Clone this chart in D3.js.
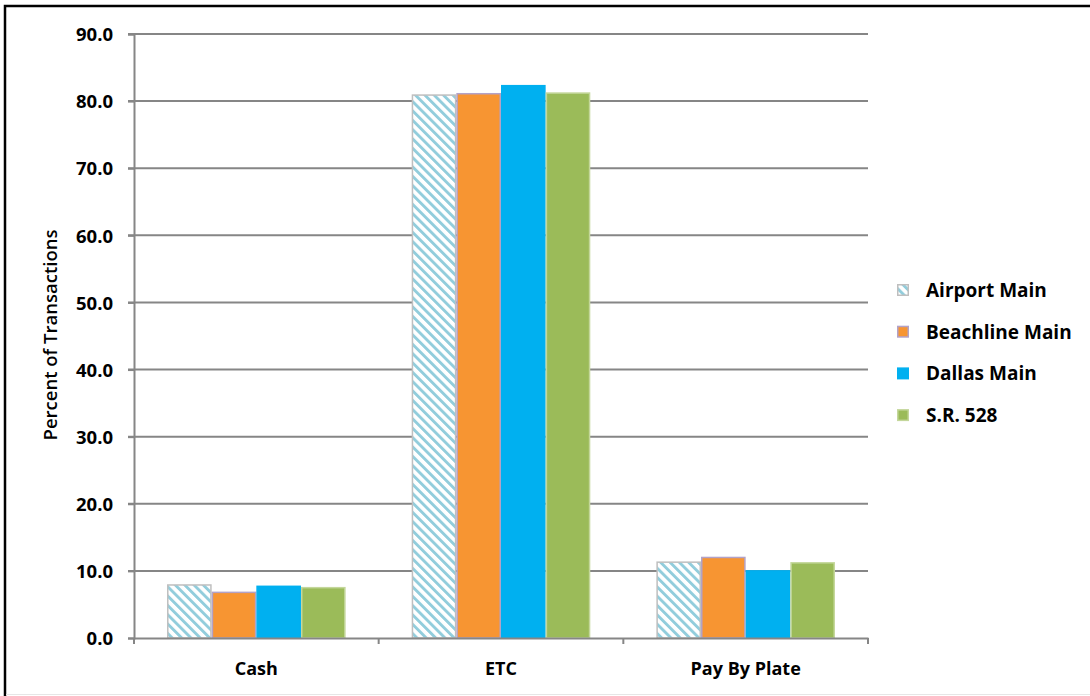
<!DOCTYPE html>
<html>
<head>
<meta charset="utf-8">
<script src="https://cdn.jsdelivr.net/npm/d3@7"></script>
<style>
  html, body { margin: 0; padding: 0; background: #fff; }
  svg { display: block; }
  svg text { font-family: "Open Sans", "Noto Sans", sans-serif; }
</style>
</head>
<body>
<svg id="chart" width="1090" height="696"></svg>
<script>
// Share of toll transactions by payment type at four plazas
const categories = ["Cash", "ETC", "Pay By Plate"];
const seriesNames = ["Airport Main", "Beachline Main", "Dallas Main", "S.R. 528"];
const airportMain   = [7.9, 80.9, 11.3];
const beachlineMain = [6.8, 81.1, 12.0];
const dallasMain    = [7.7, 82.3, 10.0];
const sr528         = [7.5, 81.2, 11.2];
const yTicks = [0, 10, 20, 30, 40, 50, 60, 70, 80, 90];
const yTitle = "Percent of Transactions";

(function draw() {
  const seriesValues = [airportMain, beachlineMain, dallasMain, sr528];
  const fills = ["url(#diagStripe)", "#f79532", "#00b0f0", "#9bbb59"];
  const strokes = ["#bfbfbf", "#b3a2c7", "#00b0f0", "#c4d79b"];
  const fontFamily = '"Open Sans", "Noto Sans", sans-serif';

  const svg = d3.select("#chart");

  // stripe pattern for the first series (running top-left to bottom-right)
  const defs = svg.append("defs");
  const pat = defs.append("pattern")
    .attr("id", "diagStripe")
    .attr("patternUnits", "userSpaceOnUse")
    .attr("width", 6.6).attr("height", 6.6)
    .attr("patternTransform", "rotate(-45)");
  pat.append("rect").attr("width", 6.6).attr("height", 6.6).attr("fill", "#fff");
  pat.append("rect").attr("x", 0).attr("width", 2.9).attr("height", 6.6).attr("fill", "#92cddc");

  // outer frame (top and left edges visible)
  svg.append("rect")
    .attr("x", 5).attr("y", 6).attr("width", 1100).attr("height", 720)
    .attr("fill", "none").attr("stroke", "#000").attr("stroke-width", 2.5);
  svg.append("line")
    .attr("x1", 6).attr("x2", 1090).attr("y1", 694.5).attr("y2", 694.5)
    .attr("stroke", "#e6e6e6").attr("stroke-width", 1);

  const mLeft = 134, mRight = 868, mTop = 34, mBottom = 638;

  const y = d3.scaleLinear().domain([0, 90]).range([mBottom, mTop]);
  const x0 = d3.scaleBand().domain(categories).range([mLeft, mRight])
    .paddingInner(0.27).paddingOuter(0.135);
  const x1 = d3.scaleBand().domain(seriesNames).range([0, x0.bandwidth()]);

  // horizontal gridlines
  svg.append("g")
    .selectAll("line")
    .data(yTicks.filter(d => d > 0))
    .join("line")
    .attr("x1", mLeft - 6).attr("x2", mRight)
    .attr("y1", d => y(d)).attr("y2", d => y(d))
    .attr("stroke", "#868686").attr("stroke-width", 2);

  // bars
  const groups = svg.append("g")
    .selectAll("g")
    .data(categories)
    .join("g")
    .attr("transform", d => `translate(${x0(d)},0)`);

  groups.selectAll("rect")
    .data((c, ci) => seriesNames.map((s, si) => ({ s, si, v: seriesValues[si][ci] })))
    .join("rect")
    .attr("x", d => x1(d.s) + 0.75)
    .attr("width", x1.bandwidth() - 1.5)
    .attr("y", d => y(d.v))
    .attr("height", d => y(0) - y(d.v))
    .attr("fill", d => fills[d.si])
    .attr("stroke", d => strokes[d.si])
    .attr("stroke-width", 1.5);

  // y axis
  const yAxis = d3.axisLeft(y).tickValues(yTicks).tickFormat(d3.format(".1f")).tickSize(6).tickPadding(15);
  const gy = svg.append("g").attr("transform", `translate(${mLeft},0)`).call(yAxis)
    .attr("font-family", fontFamily).attr("font-size", 18.5).attr("font-weight", 700);
  gy.select(".domain").attr("stroke", "#868686").attr("stroke-width", 2);
  gy.selectAll(".tick line").attr("stroke", "#868686").attr("stroke-width", 2);
  gy.selectAll(".tick text").attr("fill", "#000").attr("dy", "0.36em");

  // x axis
  const xAxis = d3.axisBottom(x0).tickSize(0).tickPadding(24);
  const gx = svg.append("g").attr("transform", `translate(0,${mBottom})`).call(xAxis)
    .attr("font-family", fontFamily).attr("font-size", 18).attr("font-weight", 700);
  gx.select(".domain").attr("stroke", "#868686").attr("stroke-width", 2);
  gx.selectAll(".tick text").attr("fill", "#000");

  // category boundary ticks below the x axis
  const bounds = [mLeft].concat(categories.map(c => x0(c) + x0.bandwidth() + x0.step() * x0.paddingInner() / 2));
  bounds[bounds.length - 1] = mRight;
  svg.append("g")
    .selectAll("line")
    .data(bounds)
    .join("line")
    .attr("x1", d => d).attr("x2", d => d)
    .attr("y1", mBottom).attr("y2", mBottom + 6)
    .attr("stroke", "#868686").attr("stroke-width", 2);

  // y-axis title
  svg.append("text")
    .attr("transform", `translate(57,${335}) rotate(-90)`)
    .attr("text-anchor", "middle")
    .style("font-size", "18.5px").style("font-weight", 600)
    .text(yTitle);

  // legend
  const legend = svg.append("g").attr("transform", "translate(897,290)");
  const rows = legend.selectAll("g")
    .data(seriesNames)
    .join("g")
    .attr("transform", (d, i) => `translate(0,${i * 41.7})`);
  rows.append("rect")
    .attr("x", 0.75).attr("y", -5.25)
    .attr("width", 10.5).attr("height", 10.5)
    .attr("fill", (d, i) => fills[i])
    .attr("stroke", (d, i) => strokes[i])
    .attr("stroke-width", 1.5);
  rows.append("text")
    .attr("x", 29).attr("dy", "0.36em")
    .style("font-size", "19px").style("font-weight", 700)
    .text(d => d);
})();
</script>
</body>
</html>
